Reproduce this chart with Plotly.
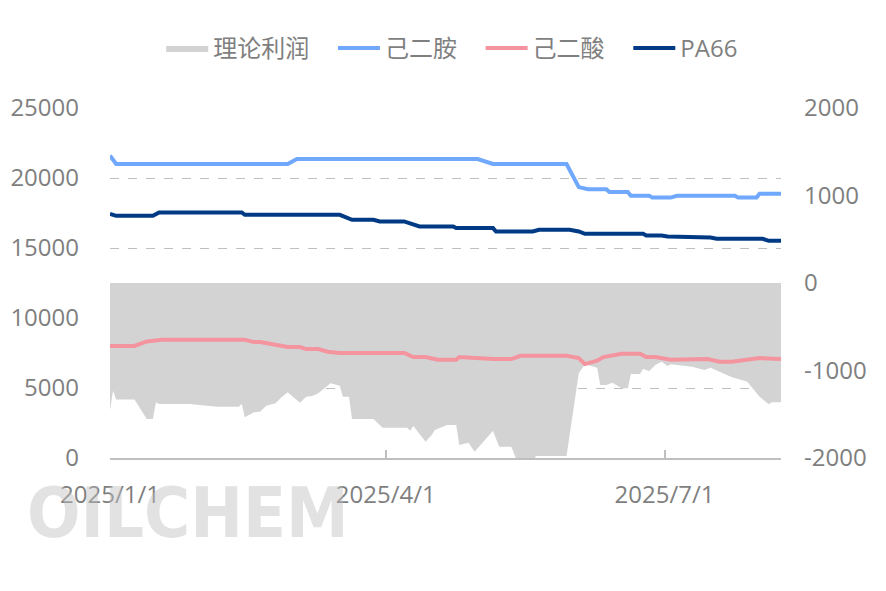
import plotly.graph_objects as go

# 理论利润 (right axis)
profit_dates = ["2025-01-01","2025-01-02","2025-01-03","2025-01-09","2025-01-13","2025-01-15","2025-01-16","2025-01-17",
    "2025-01-27","2025-02-05","2025-02-12","2025-02-13","2025-02-14","2025-02-17","2025-02-19","2025-02-21","2025-02-24",
    "2025-02-26","2025-02-28","2025-03-04","2025-03-06","2025-03-08","2025-03-10","2025-03-14","2025-03-17","2025-03-18",
    "2025-03-20","2025-03-21","2025-03-28","2025-03-31","2025-04-08","2025-04-09","2025-04-10","2025-04-14","2025-04-16",
    "2025-04-17","2025-04-21","2025-04-24","2025-04-25","2025-04-28","2025-04-30","2025-05-06","2025-05-08","2025-05-12",
    "2025-05-14","2025-05-19","2025-05-20","2025-05-30","2025-06-03","2025-06-04","2025-06-05","2025-06-09","2025-06-10",
    "2025-06-12","2025-06-14","2025-06-17","2025-06-19","2025-06-20","2025-06-23","2025-06-24","2025-06-26","2025-06-28",
    "2025-06-30","2025-07-02","2025-07-03","2025-07-10","2025-07-14","2025-07-16","2025-07-23","2025-07-25","2025-07-28",
    "2025-08-01","2025-08-04","2025-08-05","2025-08-08"]
profit_values = [-1450,-1230,-1330,-1330,-1555,-1555,-1363,-1383,
    -1383,-1414,-1414,-1383,-1535,-1478,-1471,-1402,-1375,
    -1306,-1249,-1368,-1299,-1291,-1261,-1146,-1174,-1299,
    -1299,-1554,-1554,-1654,-1654,-1688,-1634,-1814,-1737,
    -1680,-1623,-1623,-1851,-1825,-1928,-1688,-1871,-1871,
    -2050,-2050,-1977,-1977,-1032,-975,-929,-968,-1166,
    -1166,-1139,-1203,-1203,-1040,-1040,-983,-1006,-937,
    -899,-949,-929,-957,-994,-968,-1078,-1097,-1128,
    -1299,-1386,-1363,-1363]

# 己二胺 (left axis)
hmda_dates = ["2025-01-01","2025-01-03","2025-02-28","2025-03-03","2025-05-01","2025-05-06","2025-05-30","2025-06-03",
    "2025-06-06","2025-06-12","2025-06-13","2025-06-19","2025-06-20","2025-06-26","2025-06-27","2025-07-03","2025-07-05",
    "2025-07-24","2025-07-25","2025-07-31","2025-08-01","2025-08-08"]
hmda_values = [21600,21000,21000,21350,21350,21000,21000,19350,
    19200,19200,19000,19000,18730,18730,18600,18600,18730,
    18730,18600,18600,18870,18870]

# 己二酸 (left axis)
aa_dates = ["2025-01-01","2025-01-09","2025-01-13","2025-01-18","2025-02-14","2025-02-17","2025-02-19","2025-02-22",
    "2025-02-28","2025-03-04","2025-03-06","2025-03-10","2025-03-13","2025-03-17","2025-04-07","2025-04-10","2025-04-14",
    "2025-04-18","2025-04-24","2025-04-25","2025-04-30","2025-05-06","2025-05-12","2025-05-15","2025-05-30","2025-06-03",
    "2025-06-05","2025-06-09","2025-06-11","2025-06-13","2025-06-17","2025-06-23","2025-06-25","2025-06-28","2025-07-03",
    "2025-07-15","2025-07-19","2025-07-23","2025-07-27","2025-08-01","2025-08-08"]
aa_values = [8000,8000,8325,8450,8450,8280,8280,8160,
    7925,7925,7780,7780,7590,7500,7500,7210,7210,
    7020,7020,7210,7150,7070,7070,7300,7300,7140,
    6710,6950,7210,7300,7450,7450,7210,7210,7020,
    7070,6880,6880,7020,7140,7070]

# PA66 (left axis)
pa_dates = ["2025-01-01","2025-01-03","2025-01-15","2025-01-17","2025-02-13","2025-02-14","2025-03-17","2025-03-20",
    "2025-03-21","2025-03-28","2025-03-30","2025-04-07","2025-04-12","2025-04-23","2025-04-24","2025-05-06","2025-05-07",
    "2025-05-19","2025-05-21","2025-05-31","2025-06-03","2025-06-05","2025-06-24","2025-06-25","2025-06-30","2025-07-02",
    "2025-07-08","2025-07-09","2025-07-16","2025-07-18","2025-08-02","2025-08-04","2025-08-08"]
pa_values = [17443,17300,17300,17536,17536,17370,17370,17136,
    17015,17015,16895,16895,16540,16540,16420,16420,16180,
    16180,16300,16300,16180,16015,16015,15895,15895,15820,
    15820,15750,15750,15660,15660,15515,15515]

x_ticks = ["2025-01-01", "2025-04-01", "2025-07-01"]
x_range = ["2025-01-01", "2025-08-08"]
left_ticks = [0, 5000, 10000, 15000, 20000, 25000]
left_labels = ["0", "5000", "10000", "15000", "20000", "25000"]
right_ticks = [-2000, -1000, 0, 1000, 2000]
right_labels = ["-2000", "-1000", "0", "1000", "2000"]

FONT = "Open Sans, Noto Sans CJK SC, sans-serif"
GREY = "#7f7f7f"
PAD = "\u00a0\u00a0\u00a0"

fig = go.Figure()
fig.add_trace(go.Scatter(x=profit_dates, y=profit_values, name="理论利润" + PAD, yaxis="y",
                         mode="lines", fill="tozeroy", fillcolor="#d3d3d3",
                         line=dict(width=0, color="#d3d3d3")))
fig.add_trace(go.Scatter(x=hmda_dates, y=hmda_values, name="己二胺" + PAD, yaxis="y2",
                         mode="lines", line=dict(color="#6fa8fc", width=4)))
fig.add_trace(go.Scatter(x=aa_dates, y=aa_values, name="己二酸" + PAD, yaxis="y2",
                         mode="lines", line=dict(color="#f4949f", width=4)))
fig.add_trace(go.Scatter(x=pa_dates, y=pa_values, name="PA66", yaxis="y2",
                         mode="lines", line=dict(color="#003a84", width=4)))

# the page body has an 8px margin, so margins are shifted by 8px
fig.update_layout(
    width=886, height=591,
    margin=dict(l=102, r=113, t=100, b=141),
    paper_bgcolor="white", plot_bgcolor="white",
    font=dict(family=FONT, size=24, color=GREY),
    showlegend=True,
    legend=dict(orientation="h", x=0.51, xanchor="center", y=1.17, yanchor="middle",
                font=dict(size=24, color=GREY), itemwidth=42, tracegroupgap=0),
    xaxis=dict(type="date", range=x_range, tickvals=x_ticks, tickformat="%Y/%-m/%-d",
               showgrid=False, zeroline=False, showline=True, linecolor="#bfbfbf", linewidth=2,
               ticks="inside", ticklen=8, tickcolor="#bfbfbf", tickwidth=2, automargin=False,
               ticklabelstandoff=14, tickfont=dict(size=24, color=GREY)),
    yaxis=dict(range=[-2000, 2000], tickvals=right_ticks, ticktext=right_labels, side="right",
               showgrid=False, zeroline=False, automargin=False,
               showline=False, ticklabelstandoff=22, tickfont=dict(size=24, color=GREY)),
    yaxis2=dict(range=[0, 25000], tickvals=left_ticks, ticktext=left_labels, side="left", overlaying="y",
                showgrid=True, automargin=False,
                gridcolor="#bfbfbf", griddash="dash", gridwidth=1, zeroline=False, showline=False,
                ticklabelstandoff=30, tickfont=dict(size=24, color=GREY)),
    annotations=[dict(text="OILCHEM", xref="paper", yref="paper", x=0.116, y=-0.157,
                      xanchor="center", yanchor="middle", showarrow=False,
                      font=dict(family="Liberation Sans Narrow, DejaVu Sans Condensed, sans-serif",
                                size=70, color="rgba(190,190,190,0.45)", weight="bold"))],
)

fig.write_html("out.html")
